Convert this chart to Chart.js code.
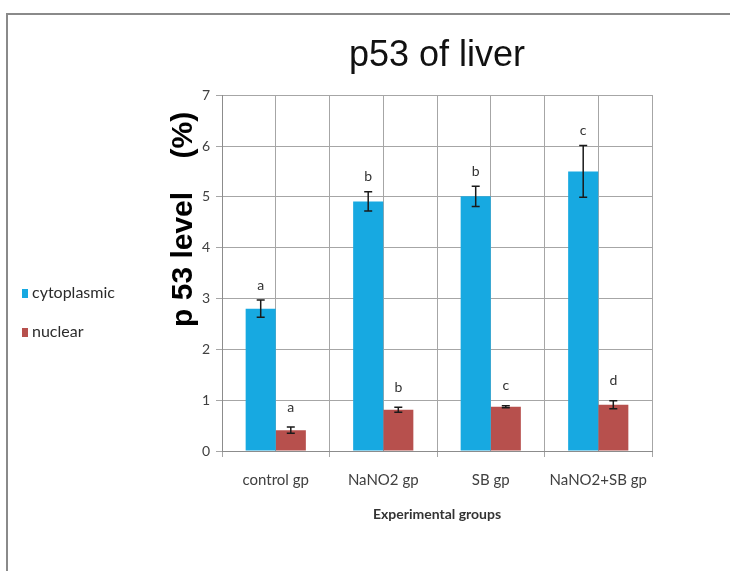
<!DOCTYPE html>
<html>
<head>
<meta charset="utf-8">
<script src="https://cdn.jsdelivr.net/npm/chart.js@4.4.0/dist/chart.umd.min.js"></script>
<style>
    html, body { margin: 0; padding: 0; background: #fff; overflow: hidden; }
    #wrap { position: relative; width: 730px; height: 571px; }
    #frame { position: absolute; left: 6px; top: 13px; width: 800px; height: 700px;
             border-top: 2px solid #8a8a8a; border-left: 2px solid #8a8a8a; }
    #chart { position: absolute; left: 0; top: 0; }
    .legend { position: absolute; left: 22px; font-family: Lato, sans-serif; font-size: 16px; color: #2b2b2b; }
    .legend span { display: inline-block; width: 6px; height: 9px; margin-right: 4px; vertical-align: 0px; }
</style>
</head>
<body>
<div id="wrap">
    <div id="frame"></div>
    <canvas id="chart" width="730" height="571"></canvas>
    <div class="legend" style="top:282px"><span style="background:#17a9e1"></span>cytoplasmic</div>
    <div class="legend" style="top:321px"><span style="background:#b7504d"></span>nuclear</div>
</div>
<script>
const groups = ['control gp', 'NaNO2 gp', 'SB gp', 'NaNO2+SB gp'];
const cytoplasmic = [2.8, 4.91, 5.01, 5.5];
const cytoErr = [0.17, 0.19, 0.2, 0.51];
const nuclear = [0.41, 0.81, 0.87, 0.91];
const nuclearErr = [0.06, 0.05, 0.02, 0.08];
const cytoLetters = ['a', 'b', 'b', 'c'];
const nuclearLetters = ['a', 'b', 'c', 'd'];
const yTicks = [0, 1, 2, 3, 4, 5, 6, 7];

// error bars + significance letters, drawn from the bar elements and y scale
const errorBars = {
    id: 'errorBars',
    afterDatasetsDraw(chart) {
        const ctx = chart.ctx;
        const y = chart.scales.y;
        chart.data.datasets.forEach((ds, di) => {
            const meta = chart.getDatasetMeta(di);
            meta.data.forEach((bar, i) => {
                const v = ds.data[i], e = ds.err[i];
                const top = y.getPixelForValue(v + e);
                const bot = y.getPixelForValue(v - e);
                ctx.save();
                ctx.strokeStyle = '#1a1a1a';
                ctx.lineWidth = 1.5;
                ctx.beginPath();
                ctx.moveTo(bar.x, top); ctx.lineTo(bar.x, bot);
                ctx.moveTo(bar.x - 4, top); ctx.lineTo(bar.x + 4, top);
                ctx.moveTo(bar.x - 4, bot); ctx.lineTo(bar.x + 4, bot);
                ctx.stroke();
                ctx.fillStyle = '#333';
                ctx.font = '14px Lato';
                ctx.textAlign = 'center';
                ctx.textBaseline = 'middle';
                ctx.fillText(ds.letters[i], bar.x, top - ds.letterGap);
                ctx.restore();
            });
        });
    }
};

new Chart(document.getElementById('chart'), {
    type: 'bar',
    data: {
        labels: groups,
        datasets: [
            { label: 'cytoplasmic', data: cytoplasmic, err: cytoErr, letters: cytoLetters, letterGap: 15,
              backgroundColor: '#17a9e1', categoryPercentage: 0.56, barPercentage: 1 },
            { label: 'nuclear', data: nuclear, err: nuclearErr, letters: nuclearLetters, letterGap: 20,
              backgroundColor: '#b7504d', categoryPercentage: 0.56, barPercentage: 1 }
        ]
    },
    options: {
        responsive: false,
        animation: false,
        layout: { padding: { left: 166, right: 78, top: 0, bottom: 48 } },
        plugins: {
            legend: { display: false },
            tooltip: { enabled: false },
            title: {
                display: true,
                text: 'p53 of liver',
                fullSize: false,
                color: '#111',
                font: { family: 'Liberation Sans', size: 36, weight: 'normal' },
                padding: { top: 34, bottom: 18 }
            }
        },
        scales: {
            x: {
                grid: { color: '#a6a6a6', tickLength: 6, offset: true },
                border: { color: '#8c8c8c' },
                ticks: { color: '#404040', font: { family: 'Lato', size: 15 }, padding: 14, maxRotation: 0 },
                title: { display: true, text: 'Experimental groups', color: '#333',
                         font: { family: 'Lato', size: 14, weight: 'bold' }, padding: 0 },
                afterFit(s) { s.height = 72; }
            },
            x2: {
                type: 'linear', position: 'bottom', min: 0, max: 8, offset: false,
                ticks: { display: false, stepSize: 1 },
                grid: { color: '#a6a6a6', drawTicks: false, offset: false },
                border: { display: false },
                afterFit(s) { s.height = 0; }
            },
            y: {
                min: 0, max: 7,
                afterBuildTicks(s) { s.ticks = yTicks.map(v => ({ value: v })); },
                grid: { color: '#a6a6a6', tickLength: 6 },
                border: { color: '#8c8c8c' },
                ticks: { color: '#404040', font: { family: 'Lato', size: 14 }, padding: 6 },
                title: { display: true, text: 'p 53 level    (%)  ', align: 'end', color: '#000',
                         font: { family: 'Liberation Sans', size: 30, weight: 'bold' }, padding: 0 },
                afterFit(s) { s.width = 56; }
            }
        }
    },
    plugins: [errorBars]
});
</script>
</body>
</html>
